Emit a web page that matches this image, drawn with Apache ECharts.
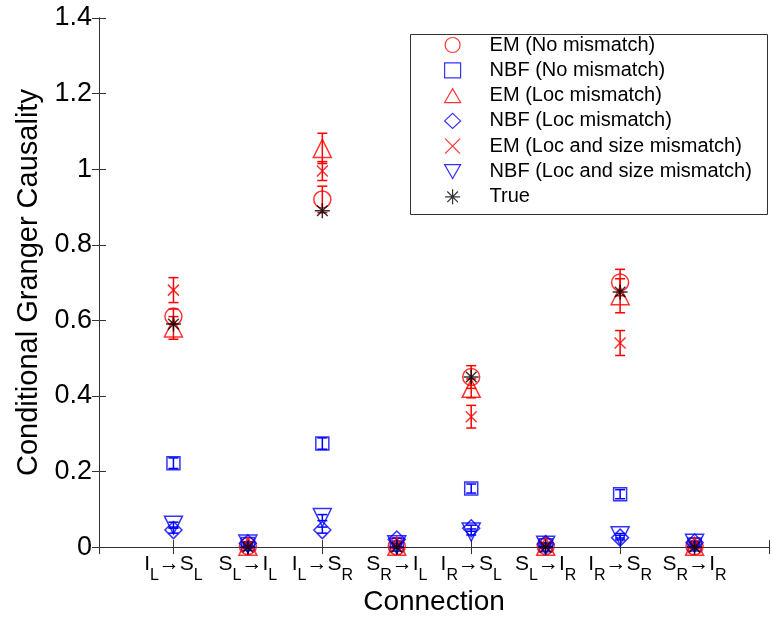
<!DOCTYPE html>
<html><head><meta charset="utf-8">
<script src="https://cdn.jsdelivr.net/npm/echarts/dist/echarts.min.js"></script>
<style>html,body{margin:0;padding:0;background:#fff}#c{width:772px;height:621px}</style>
</head><body><div id="c"></div>
<script>
// ---- data ----
const categories = ['I_L→S_L','S_L→I_L','I_L→S_R','S_R→I_L','I_R→S_L','S_L→I_R','I_R→S_R','S_R→I_R'];
const seriesNames = ['EM (No mismatch)','NBF (No mismatch)','EM (Loc mismatch)','NBF (Loc mismatch)','EM (Loc and size mismatch)','NBF (Loc and size mismatch)','True'];
const emNo      = [0.61, 0.003, 0.92, 0.002, 0.45, 0.003, 0.70, 0.002];
const emNoErr   = [0.02, 0.005, 0.035, 0.005, 0.03, 0.005, 0.035, 0.005];
const nbfNo     = [0.222, 0.008, 0.274, 0.006, 0.155, 0.005, 0.14, 0.007];
const nbfNoErr  = [0.014, 0.004, 0.015, 0.004, 0.012, 0.004, 0.012, 0.004];
const emLoc     = [0.58, 0.002, 1.055, 0.002, 0.42, 0.002, 0.665, 0.002];
const emLocErr  = [0.03, 0.005, 0.04, 0.005, 0.025, 0.005, 0.045, 0.005];
const nbfLoc    = [0.045, 0.01, 0.045, 0.02, 0.05, 0.008, 0.025, 0.012];
const nbfLocErr = [0.008, 0.004, 0.008, 0.004, 0.008, 0.004, 0.006, 0.004];
const emLs      = [0.68, 0.003, 0.995, 0.003, 0.345, 0.003, 0.54, 0.003];
const emLsErr   = [0.033, 0.005, 0.025, 0.005, 0.03, 0.005, 0.033, 0.005];
const nbfLs     = [0.058, 0.008, 0.078, 0.006, 0.04, 0.005, 0.03, 0.01];
const nbfLsErr  = [0.008, 0.004, 0.008, 0.004, 0.008, 0.004, 0.006, 0.004];
const trueVals  = [0.59, 0, 0.89, 0, 0.45, 0, 0.675, 0];

// ---- styling ----
const RED = '#ff0000', BLUE = '#0000ff', BLACK = '#000000';
const FONT = 'Liberation Sans, Arial, Helvetica, sans-serif';
const SYM = {
  triUp: 'path://M5,0L10,8.66L0,8.66Z',
  triDown: 'path://M0,0L10,0L5,8.66Z',
  cross: 'path://M0,0L10,10M10,0L0,10',
  star: 'path://M0,5L10,5M5,0L5,10M1.46,1.46L8.54,8.54M8.54,1.46L1.46,8.54'
};

function scatter(name, vals, symbol, size, color){
  return {
    type: 'scatter', name: name, symbol: symbol, symbolSize: size, clip: false,
    itemStyle: {color: 'rgba(0,0,0,0)', borderColor: color, borderWidth: 1.5},
    emphasis: {disabled: true}, silent: true,
    data: vals.map((v, i) => [i + 1, v])
  };
}
function errbar(name, vals, errs, color){
  return {
    type: 'custom', name: name + ' err', silent: true, clip: false,
    data: vals.map((v, i) => [i + 1, v - errs[i], v + errs[i]]),
    encode: {x: 0, y: [1, 2]},
    renderItem: function(params, api){
      const x = api.value(0);
      const lo = api.coord([x, api.value(1)]);
      const hi = api.coord([x, api.value(2)]);
      const hw = 5, st = {stroke: color, lineWidth: 1.5, fill: null};
      return {type: 'group', children: [
        {type: 'line', shape: {x1: lo[0], y1: lo[1], x2: hi[0], y2: hi[1]}, style: st},
        {type: 'line', shape: {x1: lo[0]-hw, y1: lo[1], x2: lo[0]+hw, y2: lo[1]}, style: st},
        {type: 'line', shape: {x1: hi[0]-hw, y1: hi[1], x2: hi[0]+hw, y2: hi[1]}, style: st}
      ]};
    }
  };
}
function catLabel(v){
  const s = categories[v - 1];
  if (!s) return '';
  return '{m|' + s.replace(/_(.)/g, '}{s|$1}{m|') + '}';
}

const axisLineStyle = {color: '#333', width: 1};
const chart = echarts.init(document.getElementById('c'), null, {renderer: 'canvas'});
chart.setOption({
  animation: false,
  backgroundColor: '#fff',
  textStyle: {fontFamily: FONT},
  grid: {left: 99, top: 18, width: 676, height: 532, containLabel: false},
  xAxis: [{
    type: 'value', min: 0, max: 9, interval: 1, position: 'bottom',
    name: 'Connection', nameLocation: 'middle', nameGap: 37,
    nameTextStyle: {fontSize: 28, color: '#000', fontFamily: FONT},
    axisLine: {lineStyle: axisLineStyle},
    axisTick: {inside: true, length: 7, lineStyle: axisLineStyle},
    splitLine: {show: false},
    axisLabel: {
      margin: 7, formatter: catLabel, color: '#000',
      rich: {
        m: {fontSize: 21, lineHeight: 21, verticalAlign: 'top', fontFamily: FONT, color: '#000'},
        s: {fontSize: 16, lineHeight: 16, verticalAlign: 'top', padding: [13, 0, 0, 0], fontFamily: FONT, color: '#000'}
      }
    }
  }, {
    type: 'value', min: 0, max: 9, interval: 1, position: 'top',
    axisLine: {lineStyle: axisLineStyle},
    axisTick: {inside: true, length: 7, lineStyle: axisLineStyle},
    axisLabel: {show: false}, splitLine: {show: false}
  }],
  yAxis: [{
    type: 'value', min: 0, max: 1.4, interval: 0.2, position: 'left',
    name: 'Conditional Granger Causality', nameLocation: 'middle', nameGap: 48,
    nameTextStyle: {fontSize: 29, color: '#000', fontFamily: FONT},
    axisLine: {show: true, lineStyle: axisLineStyle},
    axisTick: {show: true, inside: true, length: 7, lineStyle: axisLineStyle},
    splitLine: {show: false},
    axisLabel: {margin: 7, fontSize: 27, color: '#000', fontFamily: FONT}
  }, {
    type: 'value', min: 0, max: 1.4, interval: 0.2, position: 'right',
    axisLine: {show: true, lineStyle: axisLineStyle},
    axisTick: {show: true, inside: true, length: 7, lineStyle: axisLineStyle},
    axisLabel: {show: false}, splitLine: {show: false}
  }],
  legend: {
    orient: 'vertical', left: 444, top: 35, padding: 0,
    itemWidth: 16, itemHeight: 15, itemGap: 5.3, selectedMode: false,
    data: seriesNames,
    itemStyle: {borderWidth: 1.2},
    textStyle: {fontSize: 20, color: '#000', fontFamily: FONT, padding: [0, 0, 0, 24]}
  },
  graphic: [{
    type: 'rect', left: 408, top: 32, z: 100,
    shape: {width: 357, height: 180},
    style: {fill: null, stroke: '#333', lineWidth: 1}
  }],
  series: [
    scatter(seriesNames[0], emNo, 'circle', 17, RED),
    errbar(seriesNames[0], emNo, emNoErr, RED),
    scatter(seriesNames[1], nbfNo, 'rect', 13, BLUE),
    errbar(seriesNames[1], nbfNo, nbfNoErr, BLUE),
    scatter(seriesNames[2], emLoc, SYM.triUp, 18, RED),
    errbar(seriesNames[2], emLoc, emLocErr, RED),
    scatter(seriesNames[3], nbfLoc, 'diamond', 17, BLUE),
    errbar(seriesNames[3], nbfLoc, nbfLocErr, BLUE),
    scatter(seriesNames[4], emLs, SYM.cross, 11, RED),
    errbar(seriesNames[4], emLs, emLsErr, RED),
    scatter(seriesNames[5], nbfLs, SYM.triDown, 18, BLUE),
    errbar(seriesNames[5], nbfLs, nbfLsErr, BLUE),
    scatter(seriesNames[6], trueVals, SYM.star, 15, BLACK)
  ]
});
</script>
</body></html>
